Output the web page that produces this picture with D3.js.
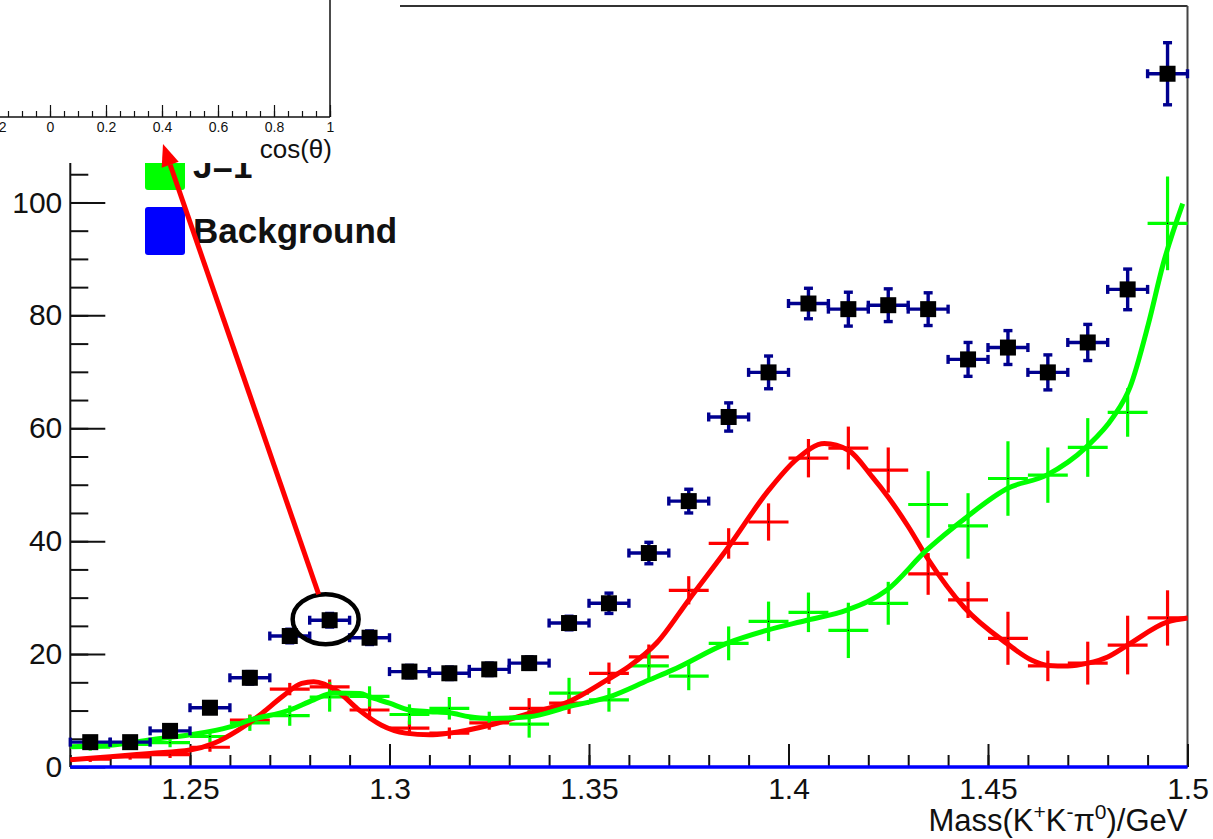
<!DOCTYPE html>
<html><head><meta charset="utf-8">
<script src="https://cdn.jsdelivr.net/npm/d3@7"></script>
<style>
body{margin:0;background:#fff}
svg{display:block}
text{font-family:"Liberation Sans",Arial,Helvetica,sans-serif;fill:#111}
</style>
</head><body>
<svg id="c" width="1213" height="839"></svg>
<script>
// ---------------- data ----------------
const binCenters = [1.225,1.235,1.245,1.255,1.265,1.275,1.285,1.295,1.305,1.315,1.325,1.335,1.345,1.355,
                    1.365,1.375,1.385,1.395,1.405,1.415,1.425,1.435,1.445,1.455,1.465,1.475,1.485,1.495];
const binHalfWidth = 0.005;

const dataValues = [4.4,4.4,6.4,10.5,15.8,23.2,26.0,22.9,16.9,16.6,17.3,18.4,25.5,29.0,
                    37.9,47.1,62.0,69.9,82.1,81.1,81.8,81.1,72.2,74.3,69.9,75.2,84.6,122.8];
const dataErrors = [0.8,0.8,0.9,1.0,1.1,1.2,1.2,1.2,1.1,1.1,1.1,1.1,1.2,1.8,
                    1.9,2.1,2.5,2.9,2.7,3.0,2.9,2.9,3.0,3.0,3.1,3.2,3.6,5.5];

const redValues = [1.4,1.8,2.2,3.5,8.3,13.8,14.2,10.1,6.9,6.0,7.8,10.4,11.3,16.6,
                   19.5,31.3,39.6,43.4,54.7,56.5,52.6,34.2,29.6,22.8,17.9,18.4,21.6,26.4];
const redErrors = [0.5,0.5,0.6,0.8,1.0,1.1,1.3,1.8,1.3,1.0,1.2,1.8,1.9,1.9,
                   2.2,2.5,2.7,3.3,3.4,3.8,4.0,3.7,3.2,4.7,2.7,3.8,5.2,4.9];

const greenValues = [3.5,4.0,4.3,5.4,7.8,9.1,12.4,12.5,9.3,10.4,8.5,7.6,13.1,11.9,
                     17.9,16.1,21.9,25.8,27.4,24.2,29.0,46.5,42.7,51.1,51.7,56.6,62.8,96.3];
const greenErrors = [0.6,0.7,0.8,1.0,1.4,1.8,2.6,1.8,1.8,2.0,1.3,2.4,2.7,2.1,
                     2.5,2.5,3.0,3.5,3.5,4.9,3.8,5.9,5.8,6.6,4.9,5.2,4.3,8.3];

const redCurveX = [1.220,1.230,1.240,1.250,1.256,1.262,1.268,1.273,1.278,1.281,1.287,1.292,1.298,1.304,1.310,1.315,
                   1.325,1.335,1.345,1.354,1.360,1.367,1.375,1.385,1.395,1.402,1.409,1.415,1.421,1.425,1.430,1.435,
                   1.444,1.4547,1.461,1.465,1.470,1.475,1.480,1.485,1.495,1.500];
const redCurveY = [1.3,1.8,2.4,3.0,4.2,6.5,9.5,12.4,14.8,15.1,13.4,10.3,7.4,6.0,5.7,6.0,
                   7.4,9.5,11.6,15.2,17.8,22.0,29.6,39.0,49.0,54.5,57.3,56.1,51.4,47.8,42.6,36.8,
                   28.3,21.9,18.9,18.0,17.9,18.4,19.5,21.6,25.7,26.4];

const greenCurveX = [1.2204,1.2307,1.240,1.250,1.260,1.265,1.275,1.281,1.286,1.2926,1.2951,1.300,1.305,1.310,1.315,
                     1.320,1.325,1.335,1.345,1.355,1.365,1.371,1.3845,1.3945,1.4046,1.4146,1.4246,1.4346,1.4447,
                     1.4547,1.4647,1.4747,1.4814,1.4856,1.4902,1.4939,1.4988];
const greenCurveY = [3.6,3.9,4.8,5.7,7.1,8.3,10.1,11.9,13.1,13.0,12.4,11.3,10.1,9.8,9.6,
                     8.9,8.6,8.9,10.7,12.4,15.4,17.2,21.9,24.2,26.0,27.8,31.3,38.4,44.3,
                     49.3,51.7,56.7,62.0,67.3,78.5,89.1,99.8];

const xTickValues = [1.25,1.3,1.35,1.4,1.45,1.5];
const xTickLabels = ["1.25","1.3","1.35","1.4","1.45","1.5"];
const yTickValues = [0,20,40,60,80,100,120];
const yTickLabels = ["0","20","40","60","80","100","120"];
const insetTickValues = [-0.2,0,0.2,0.4,0.6,0.8,1];
const insetTickLabels = ["-0.2","0","0.2","0.4","0.6","0.8","1"];
const legendLabels = ["J=1","Background"];
const legendColors = ["#00ff00","#0000ff"];
const xTitle = ["Mass(K","+","K","-","π","0",")/GeV"];

// ---------------- drawing ----------------
const svg = d3.select("#c");
const x = d3.scaleLinear().domain([1.22,1.5]).range([70.3,1187.5]);
const y = d3.scaleLinear().domain([0,134.8]).range([767,6]);
const X0 = x.range()[0], X1 = x.range()[1], Y0 = y.range()[0], Y1 = y.range()[1];

// frame
svg.append("line").attr("x1",X0).attr("x2",X1).attr("y1",Y1).attr("y2",Y1)
  .attr("stroke","#333").attr("stroke-width",2.2);
svg.append("line").attr("x1",X1).attr("x2",X1).attr("y1",Y1).attr("y2",Y0)
  .attr("stroke","#444").attr("stroke-width",2);

// x axis
function styleAxis(g){ g.select(".domain").remove(); g.selectAll("line").attr("stroke","#111").attr("stroke-width",2); }
const xMinor = d3.range(1.22,1.5001,0.01);
svg.append("g").attr("transform",`translate(0,${Y0})`)
  .call(d3.axisBottom(x).tickValues(xMinor).tickSize(-12).tickFormat(""))
  .call(styleAxis);
svg.append("g").attr("transform",`translate(0,${Y0})`)
  .call(d3.axisBottom(x).tickValues(xTickValues).tickSize(-23).tickPadding(11)
        .tickFormat((d,i)=>xTickLabels[i]))
  .call(styleAxis)
  .call(g=>g.selectAll("text").attr("font-size",30).attr("fill","#111"));
svg.append("line").attr("x1",X0).attr("x2",X1).attr("y1",Y0).attr("y2",Y0).attr("stroke","#111").attr("stroke-width",2);

// y axis
const yMinor = d3.range(0,134.8,5);
svg.append("g").attr("transform",`translate(${X0},0)`)
  .call(d3.axisLeft(y).tickValues(yMinor).tickSize(-18).tickFormat(""))
  .call(styleAxis);
svg.append("g").attr("transform",`translate(${X0},0)`)
  .call(d3.axisLeft(y).tickValues(yTickValues).tickSize(-35).tickPadding(8)
        .tickFormat((d,i)=>yTickLabels[i]))
  .call(styleAxis)
  .call(g=>g.selectAll("text").attr("font-size",30).attr("fill","#111"));
svg.append("line").attr("x1",X0).attr("x2",X0).attr("y1",Y1).attr("y2",Y0).attr("stroke","#111").attr("stroke-width",2);

// x title
const xt = svg.append("text").attr("x",X1).attr("y",831).attr("text-anchor","end").attr("font-size",31);
xTitle.forEach((s,i)=>{
  const sup = i%2===1;
  xt.append("tspan").text(s).attr("font-size",sup?21:31).attr("dy",sup?-12:(i>0?12:0));
});

// crosses (J components)
function crosses(vals, errs, color){
  const g = svg.append("g").attr("stroke",color).attr("stroke-width",3.2);
  binCenters.forEach((c,i)=>{
    g.append("line").attr("x1",x(c-binHalfWidth)).attr("x2",x(c+binHalfWidth))
      .attr("y1",y(vals[i])).attr("y2",y(vals[i]));
    g.append("line").attr("x1",x(c)).attr("x2",x(c))
      .attr("y1",y(vals[i]-errs[i])).attr("y2",y(vals[i]+errs[i]));
    g.append("rect").attr("x",x(c)-0.6).attr("y",y(vals[i])-0.6).attr("width",1.2).attr("height",1.2)
      .attr("fill","#000").attr("stroke","none");
  });
}
crosses(redValues, redErrors, "#ff0000");
crosses(greenValues, greenErrors, "#00ff00");

// curves
const line = d3.line().x(d=>x(d[0])).y(d=>y(d[1])).curve(d3.curveMonotoneX);
svg.append("path").datum(redCurveX.map((v,i)=>[v,redCurveY[i]]))
  .attr("d",line).attr("fill","none").attr("stroke","#ff0000").attr("stroke-width",5);
svg.append("path").datum(greenCurveX.map((v,i)=>[v,greenCurveY[i]]))
  .attr("d",line).attr("fill","none").attr("stroke","#00ff00").attr("stroke-width",5);

// background line at zero
svg.append("line").attr("x1",X0).attr("x2",X1).attr("y1",y(0)).attr("y2",y(0))
  .attr("stroke","#0000ff").attr("stroke-width",3.5);

// data points
const eg = svg.append("g").attr("stroke","#00008f").attr("stroke-width",3.4);
const cap = 4.5;
binCenters.forEach((c,i)=>{
  const cx = x(c), cy = y(dataValues[i]);
  const xl = x(c-binHalfWidth), xr = x(c+binHalfWidth);
  const yt = y(dataValues[i]+dataErrors[i]), yb = y(dataValues[i]-dataErrors[i]);
  eg.append("line").attr("x1",xl).attr("x2",xr).attr("y1",cy).attr("y2",cy);
  eg.append("line").attr("x1",xl).attr("x2",xl).attr("y1",cy-cap).attr("y2",cy+cap);
  eg.append("line").attr("x1",xr).attr("x2",xr).attr("y1",cy-cap).attr("y2",cy+cap);
  eg.append("line").attr("x1",cx).attr("x2",cx).attr("y1",yt).attr("y2",yb);
  eg.append("line").attr("x1",cx-cap).attr("x2",cx+cap).attr("y1",yt).attr("y2",yt);
  eg.append("line").attr("x1",cx-cap).attr("x2",cx+cap).attr("y1",yb).attr("y2",yb);
});
svg.append("g").selectAll("rect").data(binCenters).join("rect")
  .attr("x",(c)=>x(c)-8).attr("y",(c,i)=>y(dataValues[i])-8)
  .attr("width",16).attr("height",16).attr("fill","#000");

// legend
const lg = svg.append("g");
[142,207].forEach((ty,i)=>{
  lg.append("rect").attr("x",145).attr("y",ty).attr("width",40).attr("height",48)
    .attr("rx",3).attr("fill",legendColors[i]);
  lg.append("text").attr("x",193).attr("y",ty+36).attr("font-size",35).attr("font-weight","bold")
    .attr("fill","#111").text(legendLabels[i]);
});

// inset pad
svg.append("rect").attr("x",0).attr("y",0).attr("width",400).attr("height",163).attr("fill","#fff");
const xi = d3.scaleLinear().domain([0,1]).range([50,330]);
const insetY = 117;
svg.append("line").attr("x1",xi(1)).attr("x2",xi(1)).attr("y1",0).attr("y2",insetY).attr("stroke","#111").attr("stroke-width",1.5);
const insetMinor = d3.range(-0.2,1.0001,0.05);
svg.append("g").attr("transform",`translate(0,${insetY})`)
  .call(d3.axisBottom(xi).tickValues(insetMinor).tickSize(-6).tickFormat(""))
  .call(g=>{g.select(".domain").remove(); g.selectAll("line").attr("stroke","#111").attr("stroke-width",1.2);});
svg.append("g").attr("transform",`translate(0,${insetY})`)
  .call(d3.axisBottom(xi).tickValues(insetTickValues).tickSize(-12).tickPadding(5)
        .tickFormat((d,i)=>insetTickLabels[i]))
  .call(g=>{g.select(".domain").remove(); g.selectAll("line").attr("stroke","#111").attr("stroke-width",1.2);
            g.selectAll("text").attr("font-size",14).attr("fill","#111");});
svg.append("line").attr("x1",0).attr("x2",xi(1)).attr("y1",insetY).attr("y2",insetY).attr("stroke","#111").attr("stroke-width",1.5);
svg.append("text").attr("x",332).attr("y",158).attr("text-anchor","end").attr("font-size",26).text("cos(θ)");

// annotation: ellipse around highlighted point and arrow to the inset
const hi = 6; // highlighted bin index (1.285)
const ex = x(binCenters[hi]) - 4, ey = y(dataValues[hi]) - 1;
svg.append("ellipse").attr("cx",ex).attr("cy",ey).attr("rx",33).attr("ry",25)
  .attr("fill","none").attr("stroke","#000").attr("stroke-width",4.5);
const tail = [ex-7, ey-25], tip = [xi(0.4)+1, 144];
const dx = tip[0]-tail[0], dy = tip[1]-tail[1], L = Math.hypot(dx,dy);
const ux = dx/L, uy = dy/L, hl = 22, hw = 9;
const base = [tip[0]-ux*hl, tip[1]-uy*hl];
svg.append("line").attr("x1",tail[0]).attr("y1",tail[1]).attr("x2",base[0]).attr("y2",base[1])
  .attr("stroke","#ff0000").attr("stroke-width",5);
svg.append("polygon").attr("fill","#ff0000")
  .attr("points",[tip,[base[0]-uy*hw,base[1]+ux*hw],[base[0]+uy*hw,base[1]-ux*hw]].map(p=>p.join(",")).join(" "));
</script>
</body></html>
